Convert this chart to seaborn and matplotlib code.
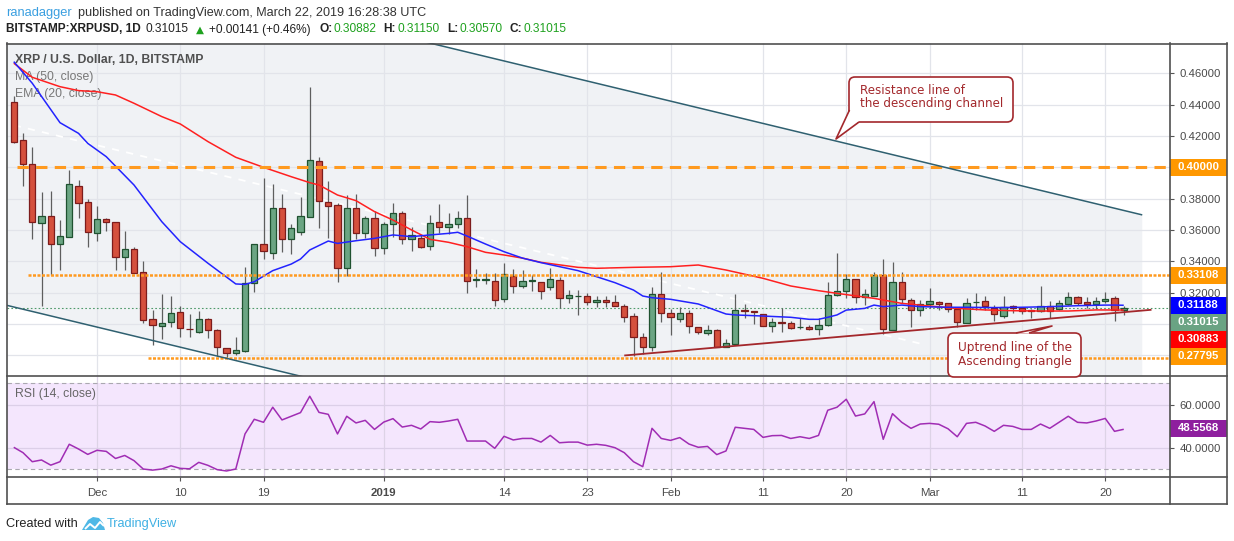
import numpy as np
import pandas as pd
import matplotlib
matplotlib.use("Agg")
import matplotlib.pyplot as plt
import seaborn as sns
from matplotlib.patches import Rectangle, FancyBboxPatch, Polygon

# ---------------- data ----------------
dates = pd.date_range("2018-11-22", "2019-03-22", freq="D")
opens = [0.4420, 0.4175, 0.4019, 0.3642, 0.3689, 0.3508, 0.3553, 0.3881, 0.3776,
         0.3578, 0.3668, 0.3649, 0.3429, 0.3476, 0.3329, 0.3029, 0.2986, 0.3010, 0.3073,
         0.2969, 0.2950, 0.3029, 0.2961, 0.2843, 0.2812, 0.2829, 0.3259, 0.3508, 0.3455,
         0.3738, 0.3540, 0.3589, 0.3681, 0.4040, 0.3776, 0.3759, 0.3359, 0.3738, 0.3583,
         0.3674,
         0.3482, 0.3636, 0.3706, 0.3540, 0.3546, 0.3497, 0.3653, 0.3617, 0.3636, 0.3674,
         0.3280, 0.3283, 0.3276, 0.3159, 0.3308, 0.3242, 0.3274, 0.3266, 0.3234, 0.3280,
         0.3167, 0.3176, 0.3178, 0.3138, 0.3153, 0.3138, 0.3112, 0.3048, 0.2914, 0.2854,
         0.3189,
         0.3072, 0.3029, 0.3067, 0.2978, 0.2944, 0.2961, 0.2854, 0.2872, 0.3089, 0.3084,
         0.3063, 0.2984, 0.3010, 0.3004, 0.2978, 0.2982, 0.2965, 0.2991, 0.3185, 0.3212,
         0.3284, 0.3169, 0.3180, 0.3312, 0.2961, 0.3266, 0.3153, 0.3089,
         0.3125, 0.3138, 0.3131, 0.3095, 0.3004, 0.3138, 0.3146, 0.3104, 0.3053, 0.3116,
         0.3104, 0.3089, 0.3082, 0.3116, 0.3095, 0.3127, 0.3170, 0.3138, 0.3125, 0.3146,
         0.3163, 0.30882]
highs = [0.4456, 0.4222, 0.4132, 0.3845, 0.3851, 0.3663, 0.3983, 0.3919, 0.3798,
         0.3753, 0.3674, 0.3653, 0.3593, 0.3493, 0.3401, 0.3088, 0.3188, 0.3178, 0.3114,
         0.3061, 0.3082, 0.3035, 0.2965, 0.2843, 0.2918, 0.3361, 0.3508, 0.3930, 0.3891,
         0.3828, 0.3638, 0.3812, 0.4515, 0.4064, 0.3913, 0.3770, 0.3823, 0.3830, 0.3689,
         0.3721,
         0.3653, 0.3774, 0.3721, 0.3617, 0.3568, 0.3695, 0.3764, 0.3706, 0.3721, 0.3823,
         0.3348, 0.3327, 0.3323, 0.3387, 0.3348, 0.3344, 0.3312, 0.3266, 0.3355, 0.3302,
         0.3216, 0.3214, 0.3195, 0.3178, 0.3178, 0.3185, 0.3127, 0.3067, 0.2939, 0.3234,
         0.3329,
         0.3093, 0.3106, 0.3089, 0.2978, 0.2993, 0.2965, 0.2904, 0.3191, 0.3127, 0.3084,
         0.3063, 0.3036, 0.3099, 0.3021, 0.3036, 0.2991, 0.3036, 0.3266, 0.3455, 0.3318,
         0.3284, 0.3221, 0.3329, 0.3412, 0.3398, 0.3329, 0.3163, 0.3153,
         0.3227, 0.3146, 0.3131, 0.3108, 0.3163, 0.3195, 0.3178, 0.3121, 0.3178, 0.3121,
         0.3110, 0.3095, 0.3242, 0.3146, 0.3153, 0.3206, 0.3178, 0.3174, 0.3174, 0.3206,
         0.3178, 0.31150]
lows = [0.4158, 0.3881, 0.3542, 0.3114, 0.3312, 0.3344, 0.3553, 0.3674, 0.3493,
        0.3531, 0.3595, 0.3344, 0.3344, 0.3323, 0.3003, 0.2865, 0.2901, 0.2978, 0.2914,
        0.2918, 0.2944, 0.2908, 0.2794, 0.2780, 0.2801, 0.2822, 0.3206, 0.3414, 0.3414,
        0.3461, 0.3444, 0.3568, 0.3681, 0.3614, 0.3551, 0.3265, 0.3308, 0.3540, 0.3546,
        0.3433,
        0.3444, 0.3553, 0.3508, 0.3468, 0.3482, 0.3472, 0.3578, 0.3574, 0.3610, 0.3199,
        0.3233, 0.3255, 0.3116, 0.3142, 0.3195, 0.3227, 0.3212, 0.3157, 0.3214, 0.3099,
        0.3135, 0.3057, 0.3121, 0.3106, 0.3106, 0.3112, 0.3014, 0.2794, 0.2808, 0.2829,
        0.3014,
        0.2929, 0.3014, 0.2944, 0.2935, 0.2929, 0.2854, 0.2854, 0.2865, 0.3040, 0.2999,
        0.2984, 0.2946, 0.2950, 0.2965, 0.2965, 0.2959, 0.2929, 0.2984, 0.3180, 0.3163,
        0.3135, 0.3121, 0.3180, 0.2935, 0.2961, 0.3131, 0.2982, 0.3050,
        0.3099, 0.3089, 0.3078, 0.2978, 0.3004, 0.3089, 0.3089, 0.3021, 0.3040, 0.3067,
        0.3063, 0.3040, 0.3078, 0.3040, 0.3089, 0.3121, 0.3121, 0.3099, 0.3095, 0.3135,
        0.3021, 0.30570]
closes = [0.4164, 0.4019, 0.3653, 0.3689, 0.3508, 0.3561, 0.3891, 0.3770, 0.3585,
          0.3668, 0.3649, 0.3429, 0.3476, 0.3323, 0.3025, 0.2990, 0.3003, 0.3067, 0.2971,
          0.2965, 0.3029, 0.2961, 0.2854, 0.2816, 0.2833, 0.3259, 0.3508, 0.3468, 0.3738,
          0.3540, 0.3610, 0.3689, 0.4047, 0.3787, 0.3755, 0.3359, 0.3738, 0.3583, 0.3674,
          0.3482,
          0.3636, 0.3706, 0.3540, 0.3568, 0.3493, 0.3646, 0.3621, 0.3636, 0.3674, 0.3276,
          0.3287, 0.3285, 0.3152, 0.3316, 0.3242, 0.3274, 0.3277, 0.3212, 0.3285, 0.3167,
          0.3182, 0.3180, 0.3138, 0.3153, 0.3138, 0.3112, 0.3046, 0.2918, 0.2854, 0.3189,
          0.3072,
          0.3042, 0.3067, 0.2986, 0.2946, 0.2961, 0.2854, 0.2876, 0.3089, 0.3084, 0.3078,
          0.2984, 0.3010, 0.3004, 0.2976, 0.2982, 0.2965, 0.2995, 0.3185, 0.3210, 0.3284,
          0.3169, 0.3189, 0.3312, 0.2965, 0.3266, 0.3159, 0.3089, 0.3125,
          0.3146, 0.3129, 0.3093, 0.3010, 0.3131, 0.3142, 0.3114, 0.3063, 0.3110, 0.3104,
          0.3082, 0.3082, 0.3116, 0.3084, 0.3131, 0.3170, 0.3131, 0.3125, 0.3146, 0.3157,
          0.30874, 0.31015]
rsi = [40.2, 37.7, 33.5, 34.3, 31.9, 33.5, 41.6, 39.4, 36.9,
       38.8, 38.3, 35.0, 36.4, 34.0, 30.1, 29.6, 30.1, 31.6, 30.4, 30.2, 33.2, 31.8, 29.8,
       29.2, 30.1, 46.4, 53.2, 51.8, 58.8, 52.9, 54.6, 56.3, 63.9, 56.4, 55.5, 46.4, 54.6,
       51.5, 52.7, 48.5,
       51.9, 53.5, 49.6, 50.4, 48.7, 52.1, 51.8, 52.4, 53.2, 43.1, 43.1, 43.1, 39.7, 45.3,
       43.6, 44.3, 44.3, 42.6, 45.7, 42.3, 42.6, 42.6, 41.2, 41.6, 41.1, 40.0, 37.7, 33.5,
       31.2, 49.0, 44.3,
       43.4, 44.7, 41.7, 40.2, 40.6, 36.8, 38.5, 49.5, 49.0, 48.5, 44.8, 45.6, 45.7, 44.3,
       45.1, 44.3, 45.7, 57.4, 58.8, 62.5, 54.7, 55.7, 61.4, 43.9, 55.8, 51.8, 49.0, 51.0,
       51.3, 50.9, 48.8, 45.1, 51.3, 51.8, 50.1, 47.6, 50.4, 49.9, 48.5, 48.5, 51.0, 49.0,
       51.8, 54.6, 51.8, 51.5, 52.4, 53.6, 47.6, 48.5568]

ema_dates = ["2018-11-22", "2018-11-24", "2018-11-27", "2018-11-29", "2018-11-30", "2018-12-02",
             "2018-12-05", "2018-12-08", "2018-12-10", "2018-12-13", "2018-12-16", "2018-12-17",
             "2018-12-18", "2018-12-20", "2018-12-22", "2018-12-23", "2018-12-24", "2018-12-26",
             "2018-12-27", "2018-12-29", "2018-12-31", "2019-01-02", "2019-01-04", "2019-01-06",
             "2019-01-08", "2019-01-09", "2019-01-10", "2019-01-12", "2019-01-14", "2019-01-16",
             "2019-01-18", "2019-01-22", "2019-01-26", "2019-01-28", "2019-01-29", "2019-01-30",
             "2019-02-01", "2019-02-04", "2019-02-07", "2019-02-08", "2019-02-11", "2019-02-14",
             "2019-02-16", "2019-02-17", "2019-02-18", "2019-02-19", "2019-02-20", "2019-02-22",
             "2019-02-23", "2019-02-24", "2019-02-26", "2019-02-28", "2019-03-03", "2019-03-05",
             "2019-03-08", "2019-03-11", "2019-03-14", "2019-03-17", "2019-03-20", "2019-03-21",
             "2019-03-22"]
ema_vals = [0.4675, 0.4537, 0.4285, 0.4217, 0.4153, 0.4068,
            0.3887, 0.3653, 0.3525, 0.3387, 0.3255, 0.3252,
            0.3269, 0.3340, 0.3382, 0.3414, 0.3472, 0.3529,
            0.3514, 0.3531, 0.3546, 0.3568, 0.3557, 0.3568,
            0.3578, 0.3585, 0.3561, 0.3510, 0.3461, 0.3420,
            0.3391, 0.3340, 0.3263, 0.3216, 0.3178, 0.3167,
            0.3157, 0.3127, 0.3063, 0.3057, 0.3050, 0.3042,
            0.3029, 0.3029, 0.3042, 0.3057, 0.3088, 0.3099,
            0.3120, 0.3110, 0.3120, 0.3110, 0.3106, 0.3106,
            0.3104, 0.3106, 0.3110, 0.3116, 0.3120, 0.3120,
            0.31188]
ma_dates = ["2018-11-22", "2018-11-24", "2018-11-27", "2018-11-29", "2018-12-01", "2018-12-03",
            "2018-12-05", "2018-12-08", "2018-12-10", "2018-12-13", "2018-12-16", "2018-12-19",
            "2018-12-22", "2018-12-24", "2018-12-25", "2018-12-27", "2018-12-29", "2018-12-31",
            "2019-01-02", "2019-01-04", "2019-01-06", "2019-01-08", "2019-01-10", "2019-01-12",
            "2019-01-14", "2019-01-16", "2019-01-18", "2019-01-22", "2019-01-24", "2019-01-28",
            "2019-02-01", "2019-02-04", "2019-02-07", "2019-02-11", "2019-02-14", "2019-02-17",
            "2019-02-19", "2019-02-23", "2019-02-26", "2019-03-01", "2019-03-04", "2019-03-07",
            "2019-03-10", "2019-03-13", "2019-03-16", "2019-03-19", "2019-03-22"]
ma_vals = [0.4665, 0.4575, 0.4515, 0.4490, 0.4483, 0.4462,
           0.4409, 0.4324, 0.4277, 0.4164, 0.4064, 0.4000,
           0.3940, 0.3902, 0.3887, 0.3823, 0.3787, 0.3717,
           0.3663, 0.3600, 0.3540, 0.3521, 0.3493, 0.3457,
           0.3440, 0.3420, 0.3393, 0.3361, 0.3355, 0.3361,
           0.3365, 0.3376, 0.3344, 0.3291, 0.3242, 0.3212,
           0.3195, 0.3163, 0.3131, 0.3114, 0.3099, 0.3089,
           0.3084, 0.3082, 0.3082, 0.3089, 0.30883]

resistance_level = 0.40000
triangle_top = 0.33108
support_level = 0.27795
last_price = 0.31015
last_ema = 0.31188
last_ma = 0.30883
last_rsi = 48.5568

price_ticks = [0.28, 0.30, 0.32, 0.34, 0.36, 0.38, 0.40, 0.42, 0.44, 0.46]
# 0.28000 and 0.30000 are hidden behind the value boxes in the reference
price_tick_labels = ["", "", "0.32000", "0.34000", "0.36000", "0.38000",
                     "0.40000", "0.42000", "0.44000", "0.46000"]
rsi_ticks = [40, 60]
rsi_tick_labels = ["40.0000", "60.0000"]
date_ticks = ["2018-12-01", "2018-12-10", "2018-12-19", "2019-01-01", "2019-01-14", "2019-01-23",
              "2019-02-01", "2019-02-11", "2019-02-20", "2019-03-01", "2019-03-11", "2019-03-20"]
date_tick_labels = ["Dec", "10", "19", "2019", "14", "23", "Feb", "11", "20", "Mar", "11", "20"]

# drawn trend lines (date, price)
chan_upper = (["2018-11-21", "2019-03-24"], [0.5449, 0.3696])
chan_lower = (["2018-11-21", "2019-03-24"], [0.3122, 0.1369])
asc_line = (["2019-01-27", "2019-03-25"], [0.2798, 0.3090])
ghost_line = (["2018-11-22", "2019-02-28"], [0.4269, 0.2874])

# ---------------- style ----------------
sns.set_theme(style="white")
plt.rcParams['font.family'] = ['Liberation Sans', 'DejaVu Sans']
plt.rcParams['lines.solid_capstyle'] = 'butt'

W, H = 1234, 541
fig = plt.figure(figsize=(W / 100, H / 100), dpi=100)
fig.patch.set_facecolor('white')

base = pd.Timestamp("2018-12-01")
def dnum(s):
    return (pd.to_datetime(pd.Series(s)) - base).dt.total_seconds().to_numpy() / 86400.0

x = dnum(dates)
o = np.array(opens); h = np.array(highs); l = np.array(lows); c = np.array(closes)

ax = fig.add_axes([7 / W, 1 - 376 / H, 1163 / W, 333 / H])
axr = fig.add_axes([7 / W, 1 - 477 / H, 1163 / W, 101 / H], sharex=ax)
XL = (-9.73, 116.0)
YL = (0.2667, 0.4794)
RL = (26.4, 73.3)

for a in (ax, axr):
    a.set_facecolor('white')
    for s in a.spines.values():
        s.set_visible(False)

GRID = '#e2e4ea'
# channel fill
cu = dnum(chan_upper[0]); cl = dnum(chan_lower[0])
ax.fill_between(cu, chan_lower[1], chan_upper[1], color='#f0f2f5', zorder=0, lw=0)
# grids
for t in dnum(date_ticks):
    ax.axvline(t, color=GRID, lw=0.9, zorder=0.5)
    axr.axvline(t, color='#ddd3e6', lw=0.9, zorder=0.5)
for p in price_ticks:
    ax.axhline(p, color=GRID, lw=0.9, zorder=0.5)

# faint white dashed helper line
ax.plot(dnum(ghost_line[0]), ghost_line[1], color='white', lw=1.3, dashes=(4, 4), zorder=1)

# candles
up = c >= o
body_lo = np.minimum(o, c)
body_h = np.maximum(np.abs(c - o), 0.0004)
ax.vlines(x, l, h, color='#5e5e5e', lw=0.9, zorder=3)
ax.bar(x[up], body_h[up], bottom=body_lo[up], width=0.68, color='#6ba583',
       edgecolor='#1f5230', linewidth=0.9, zorder=4)
ax.bar(x[~up], body_h[~up], bottom=body_lo[~up], width=0.68, color='#d5503d',
       edgecolor='#7d1c1c', linewidth=0.9, zorder=4)

# moving averages
sns.lineplot(x=dnum(ma_dates), y=ma_vals, ax=ax, color='#ff2020', lw=1.1, zorder=5)
sns.lineplot(x=dnum(ema_dates), y=ema_vals, ax=ax, color='#2323ff', lw=1.1, zorder=5)

# horizontal levels
ax.plot([-8.7, XL[1]], [resistance_level] * 2, color='#ff9a1f', lw=2.2, dashes=(3.7, 2.4), zorder=6)
ax.plot([-7.5, XL[1]], [triangle_top] * 2, color='#ff9a1f', lw=1.8, dashes=(1.2, 0.6), zorder=6)
ax.plot([5.5, XL[1]], [support_level] * 2, color='#ff9a1f', lw=1.8, dashes=(1.2, 0.6), zorder=6)
ax.axhline(last_price, color='#4f9a6a', lw=0.8, dashes=(1.5, 2), zorder=2)

# channel lines & trend line
ax.plot(cu, chan_upper[1], color='#2f6070', lw=1.1, zorder=6)
ax.plot(cl, chan_lower[1], color='#2f6070', lw=1.1, zorder=6)
ax.plot(dnum(asc_line[0]), asc_line[1], color='#a3272b', lw=1.3, zorder=6)

ax.set_xlim(*XL)
ax.set_ylim(*YL)

# price axis
ax.yaxis.tick_right()
ax.set_yticks(price_ticks)
ax.set_yticklabels(price_tick_labels)
ax.tick_params(axis='y', colors='#555555', labelcolor='#4a4a4a', labelsize=8.2,
               length=3, width=0.8, pad=4, direction='out')
ax.tick_params(axis='x', length=0, labelbottom=False)

def box(a, yfrac, hfrac, text, color):
    a.add_patch(Rectangle((1.0, yfrac - hfrac / 2), 57 / 1163, hfrac, transform=a.transAxes,
                          clip_on=False, facecolor=color, edgecolor='none', zorder=20))
    a.text(1.0 + 8 / 1163, yfrac, text, transform=a.transAxes, color='white', fontsize=8.2,
           weight='bold', va='center', ha='left', zorder=21, clip_on=False)

def yf(p):
    return (p - YL[0]) / (YL[1] - YL[0])

hb = 17 / 333
box(ax, yf(resistance_level), hb, "%.5f" % resistance_level, '#ff9800')
box(ax, yf(triangle_top), hb, "%.5f" % triangle_top, '#ff9800')
box(ax, yf(support_level) + 2 / 333, hb, "%.5f" % support_level, '#ff9800')
box(ax, (376 - 305) / 333, hb, "%.5f" % last_ema, '#0000ff')
box(ax, (376 - 322) / 333, hb, "%.5f" % last_price, '#6aa383')
box(ax, (376 - 339) / 333, hb, "%.5f" % last_ma, '#ff0000')

# in-chart titles
ax.text(8 / 1163, 1 - 17 / 333, "XRP / U.S. Dollar, 1D, BITSTAMP", transform=ax.transAxes,
        fontsize=8.8, color='#505050', weight='bold', va='center', zorder=2)
ax.text(8 / 1163, 1 - 34 / 333, "MA (50, close)", transform=ax.transAxes,
        fontsize=8.8, color='#777777', va='center', zorder=2)
ax.text(8 / 1163, 1 - 51 / 333, "EMA (20, close)", transform=ax.transAxes,
        fontsize=8.8, color='#777777', va='center', zorder=2)

# RSI panel
axr.axhspan(30, 70, color='#f4e6fd', lw=0, zorder=0)
for v in rsi_ticks:
    axr.axhline(v, color='#dccfe8', lw=0.9, zorder=0.6)
for v in (30, 70):
    axr.axhline(v, color='#aaa8b0', lw=0.8, dashes=(4, 3), zorder=1)
sns.lineplot(x=x, y=rsi, ax=axr, color='#a02db4', lw=1.1, zorder=5)
axr.set_ylim(*RL)
axr.yaxis.tick_right()
axr.set_yticks(rsi_ticks)
axr.set_yticklabels(rsi_tick_labels)
axr.tick_params(axis='y', colors='#555555', labelcolor='#4a4a4a', labelsize=8.2,
                length=3, width=0.8, pad=4)
axr.set_xticks(dnum(date_ticks))
axr.set_xticklabels(date_tick_labels)
axr.tick_params(axis='x', colors='#555555', labelcolor='#4a4a4a', labelsize=8.2,
                length=3, width=0.8, pad=5, bottom=True)
for i, tl in enumerate(axr.get_xticklabels()):
    if date_tick_labels[i] == "2019":
        tl.set_fontweight('bold')
axr.set_xlabel(""); axr.set_ylabel("")
ax.set_xlabel(""); ax.set_ylabel("")
box(axr, (477 - 428) / 101, 17 / 101, "%.4f" % last_rsi, '#8e1f9e')
axr.text(8 / 1163, 1 - 18 / 101, "RSI (14, close)", transform=axr.transAxes,
         fontsize=8.8, color='#666666', va='center', zorder=2)

# ---------------- overlay in pixel coordinates ----------------
ov = fig.add_axes([0, 0, 1, 1], zorder=10)
ov.set_xlim(0, W); ov.set_ylim(H, 0); ov.axis('off')
ov.patch.set_alpha(0)

FR = '#505050'
for (x0, y0, x1, y1) in [(7, 43.5, 1227, 43.5), (7, 504, 1227, 504), (7, 43, 7, 504),
                         (1227, 43, 1227, 504), (1170, 43, 1170, 504),
                         (7, 376, 1227, 376), (7, 477, 1227, 477)]:
    ov.plot([x0, x1], [y0, y1], color=FR, lw=1.2, solid_capstyle='projecting')

# header
ov.text(6, 13, "ranadagger", color='#3a9fe0', fontsize=9.3, va='center')
ov.text(78, 13, "published on TradingView.com, March 22, 2019 16:28:38 UTC", color='#333333',
        fontsize=9.1, va='center')
GR = '#1ea11e'
parts = [(6, "BITSTAMP:XRPUSD, 1D", '#222222', 'bold'),
         (146, "0.31015", '#222222', 'normal'),
         (196, "\u25B2", GR, 'normal'),
         (209, "+0.00141 (+0.46%)", '#222222', 'normal'),
         (319, "O:", '#222222', 'bold'), (333, "0.30882", GR, 'normal'),
         (383, "H:", '#222222', 'bold'), (397, "0.31150", GR, 'normal'),
         (447, "L:", '#222222', 'bold'), (459, "0.30570", GR, 'normal'),
         (509, "C:", '#222222', 'bold'), (523, "0.31015", GR, 'normal')]
for px, s, col, wt in parts:
    fam = ['DejaVu Sans'] if s == "\u25B2" else None
    kw = dict(family=fam) if fam else {}
    ov.text(px, 29.5, s, color=col, fontsize=8.6 if s != "\u25B2" else 7.5, weight=wt,
            va='center', **kw)

# callout 1
RED = '#a3282c'
ov.add_patch(FancyBboxPatch((849, 77), 164, 45, boxstyle="round,pad=0,rounding_size=6",
                            fc='white', ec=RED, lw=1.2, zorder=5))
ov.add_patch(Polygon([(849.6, 110), (836, 139), (859, 121.4), (859, 112), (849.6, 112)],
                     closed=True, fc='white', ec='none', zorder=6))
ov.plot([849.5, 836, 859], [110, 139, 122], color=RED, lw=1.2, zorder=7)
ov.text(860, 91, "Resistance line of", color=RED, fontsize=8.6, va='center', family='DejaVu Sans', zorder=8)
ov.text(860, 104, "the descending channel", color=RED, fontsize=8.6, va='center', family='DejaVu Sans', zorder=8)

# callout 2
ov.add_patch(FancyBboxPatch((948, 333), 133, 44, boxstyle="round,pad=0,rounding_size=6",
                            fc='white', ec=RED, lw=1.2, zorder=5))
ov.add_patch(Polygon([(1016, 333.6), (1052, 326), (1029, 333.6)],
                     closed=True, fc='white', ec='none', zorder=6))
ov.plot([1016, 1052, 1029], [333, 326, 333], color=RED, lw=1.2, zorder=7)
ov.text(958, 348, "Uptrend line of the", color=RED, fontsize=8.7, va='center', family='DejaVu Sans', zorder=8)
ov.text(958, 361, "Ascending triangle", color=RED, fontsize=8.7, va='center', family='DejaVu Sans', zorder=8)

# footer
ov.text(6, 524, "Created with", color='#222222', fontsize=9.2, va='center')
ov.add_patch(Polygon([(82, 530), (88, 520), (93, 517), (99, 518), (103, 523), (105, 530)],
                     closed=True, fc='#4fb8e6', ec='none'))
ov.plot([85, 90, 95, 100, 104], [529, 524, 528, 522, 526], color='white', lw=1.4)
ov.text(107, 524, "TradingView", color='#3fb0e3', fontsize=9.2, va='center')

fig.savefig("out.png", dpi=100, facecolor='white')
